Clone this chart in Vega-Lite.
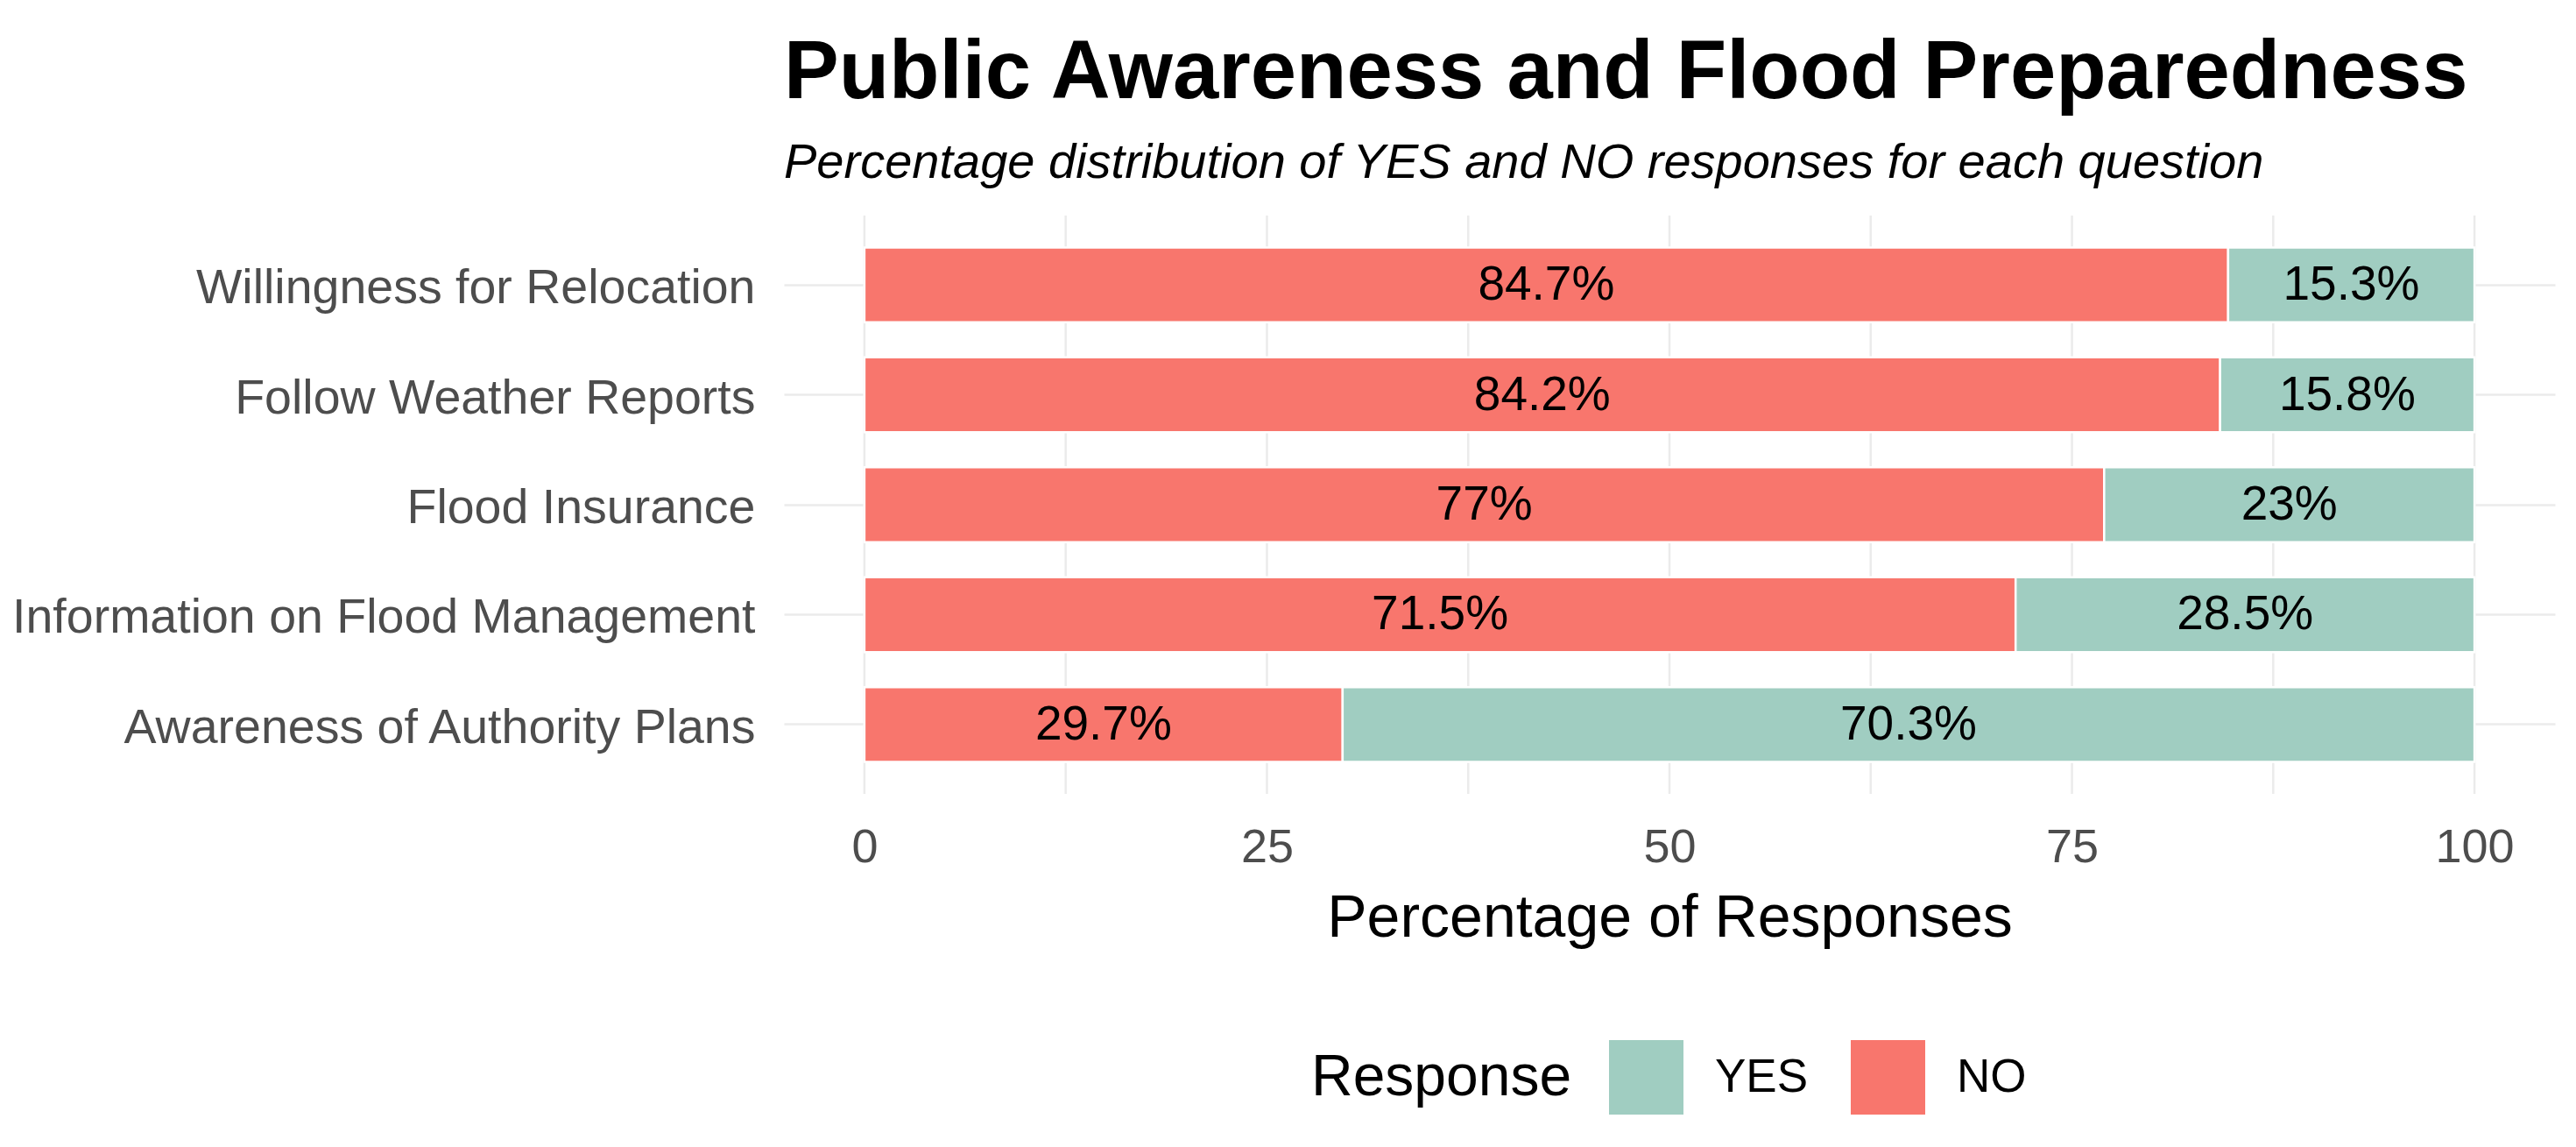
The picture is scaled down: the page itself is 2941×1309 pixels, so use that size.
{
  "$schema": "https://vega.github.io/schema/vega-lite/v6.json",
  "width": 2022,
  "height": 660,
  "autosize": {"type": "none"},
  "padding": {"left": 895, "top": 246, "right": 24, "bottom": 403},
  "background": "white",
  "title": {
    "text": "Public Awareness and Flood Preparedness",
    "subtitle": "Percentage distribution of YES and NO responses for each question",
    "anchor": "start",
    "frame": "group",
    "font": "Liberation Sans",
    "fontSize": 94,
    "fontWeight": "bold",
    "color": "black",
    "subtitleFont": "Liberation Sans",
    "subtitleFontSize": 56,
    "subtitleFontStyle": "italic",
    "subtitleColor": "black",
    "subtitlePadding": 27,
    "offset": 30,
    "limit": 0
  },
  "layer": [
    {
      "data": {"values": [
        {"g": 0}, {"g": 12.5}, {"g": 25}, {"g": 37.5}, {"g": 50},
        {"g": 62.5}, {"g": 75}, {"g": 87.5}, {"g": 100}
      ]},
      "mark": {"type": "rule", "color": "#EBEBEB", "strokeWidth": 2.5},
      "encoding": {
        "x": {"field": "g", "type": "quantitative", "scale": {"domain": [-5, 105], "nice": false, "zero": false}}
      }
    },
    {
      "data": {"name": "survey"},
      "transform": [
        {"stack": "pct", "groupby": ["question"], "sort": [{"field": "response", "order": "ascending"}], "as": ["x0", "x1"]}
      ],
      "mark": {"type": "bar", "stroke": "white", "strokeWidth": 2.5},
      "encoding": {
        "y": {
          "field": "question", "type": "nominal",
          "sort": ["Willingness for Relocation", "Follow Weather Reports", "Flood Insurance", "Information on Flood Management", "Awareness of Authority Plans"],
          "scale": {"paddingInner": 0.32, "paddingOuter": 0.29},
          "axis": {
            "title": null, "domain": false, "ticks": false, "tickSize": 0,
            "labelFontSize": 55.5, "labelColor": "#4D4D4D", "labelPadding": 33, "labelLimit": 0,
            "labelOffset": 4,
            "grid": true, "gridColor": "#EBEBEB", "gridWidth": 2.7, "bandPosition": 0.5
          }
        },
        "x": {
          "field": "x0", "type": "quantitative",
          "scale": {"domain": [-5, 105], "nice": false, "zero": false},
          "axis": {
            "title": "Percentage of Responses", "values": [0, 25, 50, 75, 100],
            "grid": false, "domain": false, "ticks": false, "tickSize": 0,
            "labelFontSize": 54, "labelColor": "#4D4D4D", "labelPadding": 34,
            "titleFontSize": 68, "titleColor": "black", "titleFontWeight": "normal",
            "titleBaseline": "alphabetic", "titleY": 162, "titleLimit": 0
          }
        },
        "x2": {"field": "x1"},
        "color": {
          "field": "response", "type": "nominal",
          "scale": {"domain": ["YES", "NO"], "range": ["#A0CDC1", "#F8766D"]},
          "legend": {
            "orient": "none", "legendX": 602, "legendY": 941,
            "direction": "horizontal", "title": "Response", "titleOrient": "left",
            "titleFontSize": 66, "titleFontWeight": "normal", "titleColor": "black",
            "titleBaseline": "middle", "titlePadding": 42, "titleLimit": 0,
            "labelFontSize": 53, "labelColor": "black", "labelOffset": 36, "labelLimit": 0,
            "symbolType": "square", "symbolSize": 7225, "symbolStrokeWidth": 0, "symbolOpacity": 1,
            "columnPadding": 48, "padding": 0
          }
        }
      }
    },
    {
      "data": {"name": "survey"},
      "transform": [
        {"stack": "pct", "groupby": ["question"], "sort": [{"field": "response", "order": "ascending"}], "as": ["x0", "x1"]},
        {"calculate": "(datum.x0 + datum.x1) / 2", "as": "mid"},
        {"calculate": "format(datum.pct, '.1~f') + '%'", "as": "label"}
      ],
      "mark": {"type": "text", "fontSize": 55, "color": "black", "baseline": "middle"},
      "encoding": {
        "y": {
          "field": "question", "type": "nominal",
          "sort": ["Willingness for Relocation", "Follow Weather Reports", "Flood Insurance", "Information on Flood Management", "Awareness of Authority Plans"]
        },
        "x": {"field": "mid", "type": "quantitative"},
        "text": {"field": "label"}
      }
    }
  ],
  "datasets": {
    "survey": [
      {"question": "Willingness for Relocation", "response": "NO", "pct": 84.7},
      {"question": "Willingness for Relocation", "response": "YES", "pct": 15.3},
      {"question": "Follow Weather Reports", "response": "NO", "pct": 84.2},
      {"question": "Follow Weather Reports", "response": "YES", "pct": 15.8},
      {"question": "Flood Insurance", "response": "NO", "pct": 77},
      {"question": "Flood Insurance", "response": "YES", "pct": 23},
      {"question": "Information on Flood Management", "response": "NO", "pct": 71.5},
      {"question": "Information on Flood Management", "response": "YES", "pct": 28.5},
      {"question": "Awareness of Authority Plans", "response": "NO", "pct": 29.7},
      {"question": "Awareness of Authority Plans", "response": "YES", "pct": 70.3}
    ]
  },
  "config": {
    "font": "Liberation Sans",
    "view": {"stroke": null}
  }
}
